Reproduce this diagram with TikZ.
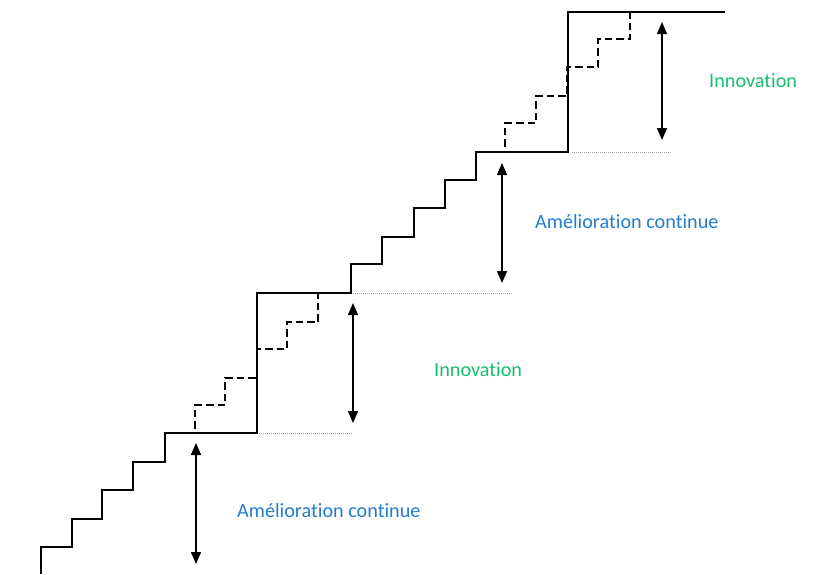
\documentclass[tikz,border=0pt]{standalone}
\usepackage{fontspec}
\setmainfont[RawFeature={-liga;-clig;-dlig}]{Carlito}
\usetikzlibrary{arrows.meta}
\definecolor{innogreen}{RGB}{20,190,110}
\definecolor{ameblue}{RGB}{35,125,205}
\tikzset{
  stair/.style={line width=1.1pt, black},
  dstair/.style={line width=1.7pt, black, dash pattern=on 7.5pt off 4pt},
  dotline/.style={line width=1pt, gray!70, dash pattern=on 1pt off 1pt},
  gap/.style={line width=1.5pt, black, {Triangle[width=10pt,length=12pt]}-{Triangle[width=10pt,length=12pt]}},
  ame/.style={font=\fontsize{20.2}{24}\selectfont, text=ameblue, inner sep=0pt, anchor=base west},
  inno/.style={font=\fontsize{20.2}{24}\selectfont, text=innogreen, inner sep=0pt, anchor=base west}
}
\begin{document}
\begin{tikzpicture}[x=1pt,y=-1pt]
\useasboundingbox (0,0) rectangle (822,574);
% solid staircase
\draw[stair] (41,574) |- (72,547) |- (102,519) |- (133,490) |- (165,462) |- (257,433)
  |- (351,293) |- (382,264) |- (414,237) |- (445,208) |- (476,180) |- (568,152)
  |- (725,12);
% dashed staircases
\draw[dstair] (165,433) -| (195,405) -| (225,378) -| (257,349) -| (287,322) -| (318,293) -- (350,293);
\draw[dstair] (476,152) -| (505,123) -| (536,96) -| (567,67) -| (598,39) -| (630,12) -- (657,12);
% dotted reference lines
\draw[dotline] (259,433) -- (353,433);
\draw[dotline] (353,293) -- (512,293);
\draw[dotline] (572,152) -- (672,152);
% arrows
\coordinate (a1t) at (196,443); \coordinate (a1b) at (196,564);
\coordinate (a2t) at (353,303); \coordinate (a2b) at (353,423);
\coordinate (a3t) at (502,163); \coordinate (a3b) at (502,283);
\coordinate (a4t) at (662,22);  \coordinate (a4b) at (662,140);
\draw[gap] (a1t) -- (a1b);
\draw[gap] (a2t) -- (a2b);
\draw[gap] (a3t) -- (a3b);
\draw[gap] (a4t) -- (a4b);
% labels
\node[ame] (l1) at (237,517) {Amélioration continue};
\node[inno] (l2) at (434,376) {Innovation};
\node[ame] (l3) at (535,228) {Amélioration continue};
\node[inno] (l4) at (709,87) {Innovation};
\end{tikzpicture}
\end{document}
